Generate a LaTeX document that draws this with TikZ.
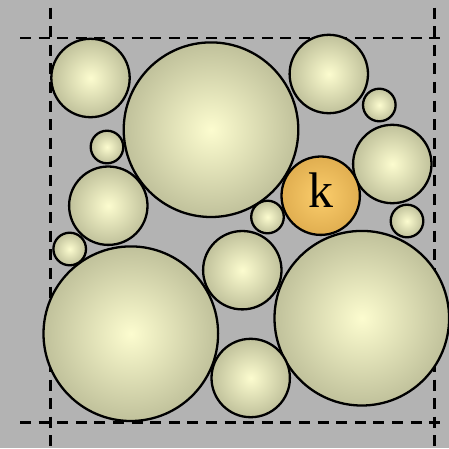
\documentclass[tikz,border=0pt]{standalone}
\usepackage{fontspec}
\newfontfamily\kfont{Liberation Serif}
\begin{document}
\begin{tikzpicture}[x=1pt,y=-1pt,
  disc/.style={circle,draw=black,line width=2.3pt,inner sep=0pt,minimum size=#1,
     inner color={rgb,255:red,252;green,252;blue,207},outer color={rgb,255:red,192;green,193;blue,155}},
  kdisc/.style={circle,draw=black,line width=2.3pt,inner sep=0pt,minimum size=#1,
     inner color={rgb,255:red,251;green,205;blue,108},outer color={rgb,255:red,224;green,174;blue,80}},
  guide/.style={line width=2.6pt,dash pattern=on 11pt off 7.6pt}]
\fill[fill={rgb,255:red,179;green,179;blue,179}] (0,0) rectangle (449,448);
\useasboundingbox (0,0) rectangle (449,448);
% guide lines
\coordinate (h1a) at (20,38);   \coordinate (h1b) at (442,38);
\coordinate (h2a) at (20,422.3);\coordinate (h2b) at (442,422.3);
\coordinate (v1a) at (50.7,7.5);\coordinate (v1b) at (50.7,448);
\coordinate (v2a) at (434.7,7.5);\coordinate (v2b) at (434.7,448);
\draw[guide] (h1a) -- (h1b);
\draw[guide] (h2a) -- (h2b);
\draw[guide] (v1a) -- (v1b);
\draw[guide] (v2a) -- (v2b);
% discs
\node[disc=78.4pt] (c1) at (90.5,78) {};
\node[disc=174.6pt] (c2) at (211,129.7) {};
\node[disc=78.4pt] (c3) at (328.8,74) {};
\node[disc=32.6pt] (c4) at (379.3,105) {};
\node[disc=78.4pt] (c5) at (392.3,164) {};
\node[kdisc=78.4pt] (k) at (320.7,195.7) {};
\node[font=\kfont\fontsize{50}{50}\selectfont] (klabel) at (321,190) {k};
\node[disc=32.6pt] (c7) at (107,147) {};
\node[disc=78.4pt] (c8) at (108.3,205.7) {};
\node[disc=32.6pt] (c9) at (267.5,217) {};
\node[disc=32.6pt] (c10) at (407,221) {};
\node[disc=32.6pt] (c11) at (69.7,249) {};
\node[disc=78.4pt] (c12) at (242.3,270.2) {};
\node[disc=174.6pt] (c13) at (130.8,333.7) {};
\node[disc=174.6pt] (c14) at (361.8,318.2) {};
\node[disc=78.4pt] (c15) at (250.7,378) {};
\end{tikzpicture}
\end{document}
